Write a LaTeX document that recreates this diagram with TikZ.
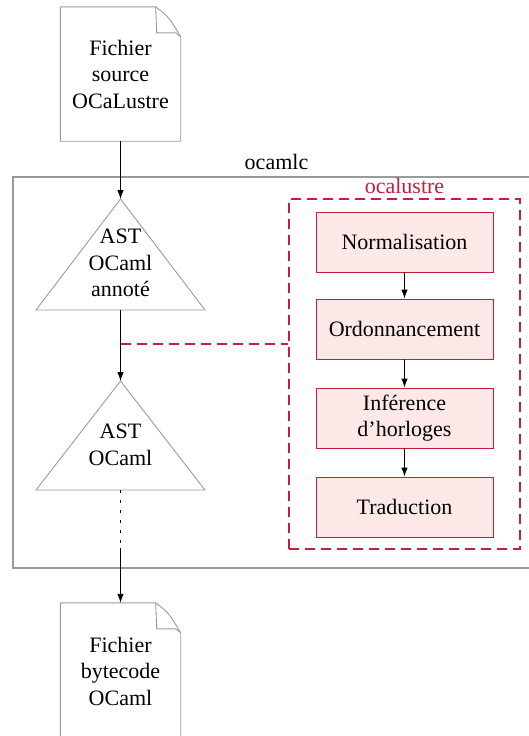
\documentclass[tikz,border=0pt]{standalone}
\usepackage{fontspec}
\setmainfont{Liberation Serif}
\usetikzlibrary{arrows.meta,calc}
\definecolor{lustrered}{HTML}{C41E3A}
\definecolor{lustrepink}{HTML}{FDE8E8}
\definecolor{frame}{HTML}{9A9A9A}
\begin{document}
\begin{tikzpicture}[x=1pt,y=-1pt,
  font=\fontsize{22}{26.5}\selectfont,
  docline/.style={draw=frame, line width=0.9pt, line join=round},
  docbox/.style={minimum width=120pt, minimum height=134pt, align=center, inner sep=0pt},
  stagebox/.style={draw=lustrered, fill=lustrepink, line width=0.9pt,
    minimum width=177pt, minimum height=60pt, align=center, inner sep=0pt},
  tri/.style={draw=frame, line width=0.9pt, line join=miter},
  flow/.style={draw=black, line width=0.9pt, -{Latex[length=9pt,width=6.5pt]}},
  reddash/.style={draw=lustrered, line width=1.05pt, dash pattern=on 10pt off 6pt}]
\useasboundingbox (0,0) rectangle (529,736);
\clip (0,0) rectangle (529,736);

% ocamlc compiler frame
\node[draw=frame, line width=1.2pt, minimum width=527pt, minimum height=391pt, inner sep=0pt]
  (ocamlc) at (276.5,372.5) {};
\node[anchor=base] (ocamlclabel) at ($(ocamlc.north)+(0,-7)$) {ocamlc};

% ocalustre preprocessor frame
\node[reddash, minimum width=231pt, minimum height=350pt, inner sep=0pt]
  (ocalustre) at (404.5,374) {};
\node[anchor=base, text=lustrered] (ocalustrelabel) at ($(ocalustre.north)+(0,-5)$) {ocalustre};

% source and output files (dog-eared pages)
\node[docbox] (src) at (120.5,74) {Fichier\\source\\OCaLustre};
\node[docbox, minimum height=160pt] (dst) at (120.5,683) {};
\node[align=center, inner sep=0pt] (dsttext) at (120.5,671) {Fichier\\bytecode\\OCaml};

\foreach \d in {src,dst} {
  \draw[docline] (\d.south west) -- (\d.north west)
    -- ($(\d.north east)+(-25,0)$)
    .. controls ($(\d.north east)+(-12,10)$) .. ($(\d.north east)+(0,30)$)
    -- (\d.south east) -- cycle;
  \draw[docline] ($(\d.north east)+(-25,0)$) -- ($(\d.north east)+(-24,26)$)
    -- ($(\d.north east)+(-5,26)$) -- ($(\d.north east)+(0,30)$);
}

% abstract syntax trees
\coordinate (t1top) at (120.5,199);
\coordinate (t1base) at (120.5,310);
\draw[tri] (t1top) -- (205,310) -- (36,310) -- cycle;
\node[align=center, inner sep=0pt] (ast1) at (120.5,263) {AST\\OCaml\\annoté};

\coordinate (t2top) at (120.5,381);
\coordinate (t2base) at (120.5,490);
\draw[tri] (t2top) -- (205,490) -- (36,490) -- cycle;
\node[align=center, inner sep=0pt] (ast2) at (120.5,445) {AST\\OCaml};

% ocalustre stages
\node[stagebox] (norm) at (404.5,242) {Normalisation};
\node[stagebox] (ordo) at (404.5,329) {Ordonnancement};
\node[stagebox] (infer) at (404.5,418) {Inférence\\d’horloges};
\node[stagebox] (trad) at (404.5,507) {Traduction};

\draw[flow] (norm) -- (ordo);
\draw[flow] (ordo) -- (infer);
\draw[flow] (infer) -- (trad);

% main pipeline
\draw[flow] (src.south) -- (t1top);
\draw[flow] (t1base) -- (t2top);
\coordinate (hook) at (120.5,344);
\draw[reddash] (hook) -- (hook -| ocalustre.west);
\coordinate (resume) at (120.5,548);
\draw[draw=black, line width=1.1pt, dash pattern=on 2.5pt off 7.5pt] (t2base) -- (resume);
\draw[flow] (resume) -- (dst.north);
\end{tikzpicture}
\end{document}
